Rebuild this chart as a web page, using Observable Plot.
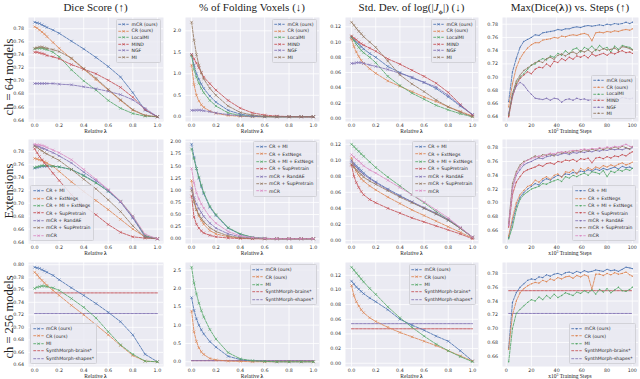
<!DOCTYPE html>
<html><head><meta charset="utf-8">
<script src="https://cdn.jsdelivr.net/npm/d3@7"></script>
<script src="https://cdn.jsdelivr.net/npm/@observablehq/plot@0.6"></script>
<style>
body{margin:0;background:#fff;}
#root{position:relative;width:640px;height:379px;overflow:hidden;background:#fff;}
.title{position:absolute;top:0px;transform:translateX(-50%);white-space:nowrap;font-family:"Liberation Serif",serif;font-size:11px;color:#222;line-height:14px;}
.rowlab{position:absolute;left:9px;white-space:nowrap;font-family:"Liberation Serif",serif;font-size:12.5px;color:#222;transform:translate(-50%,-50%) rotate(-90deg);}
.xlab{position:absolute;transform:translate(-50%,-50%);white-space:nowrap;font-family:"Liberation Serif",serif;font-size:5.5px;line-height:1;color:#222;}
.leg{position:absolute;background:rgba(234,234,242,0.85);border:0.6px solid #d2d2d8;border-radius:1.5px;padding:1px 2.5px 1px 1.5px;font-family:"DejaVu Sans";font-size:4.6px;color:#262626;white-space:nowrap;}
.legrow{display:flex;align-items:center;}
.legrow svg{margin-right:2.5px;flex:none;}
</style></head>
<body><div id="root"></div>
<script>
// ---------------- data ----------------
const lambdas = [0,0.02,0.04,0.06,0.08,0.1,0.15,0.2,0.3,0.4,0.5,0.6,0.7,0.8,0.9,1.0];
const steps = [2,5,8,11,14,17,20,23,26,29,32,35,38,41,44,47,50,53,56,59,62,65,68,71,74,77,80,83,86,89,92,95,98,100];
const lambdaTicks = [0,0.2,0.4,0.6,0.8,1.0];
const stepTicks = [0,20,40,60,80,100];

const names64 = ["mCR (ours)","CR (ours)","LocalMI","MIND","NGF","MI"];
const namesExt = ["CR + MI","CR + ExtNegs","CR + MI + ExtNegs","CR + SupPretrain","mCR + RandAE","mCR + SupPretrain","mCR"];
const names256 = ["mCR (ours)","CR (ours)","MI"];
const baselineNames256 = ["SynthMorph-brains*","SynthMorph-shapes*"];

const titles = ["Dice Score (↑)","% of Folding Voxels (↓)","Std. Dev. of log(|<i>J</i><sub style='font-size:7px'><b>ϕ</b></sub>|) (↓)","Max(Dice(<b>λ</b>)) vs. Steps (↑)"];
const rowLabels = ["ch = 64 models","Extensions","ch = 256 models"];

const dice64 = [
 [0.790,0.789,0.788,0.786,0.784,0.782,0.778,0.773,0.761,0.749,0.736,0.722,0.706,0.682,0.655,0.645],
 [0.783,0.781,0.778,0.775,0.772,0.768,0.759,0.750,0.734,0.718,0.702,0.686,0.670,0.655,0.647,0.645],
 [0.749,0.750,0.750,0.750,0.749,0.748,0.744,0.737,0.717,0.700,0.686,0.670,0.658,0.650,0.646,0.645],
 [0.744,0.744,0.743,0.742,0.741,0.739,0.737,0.734,0.725,0.718,0.711,0.701,0.690,0.675,0.656,0.645],
 [0.696,0.696,0.696,0.696,0.696,0.696,0.696,0.695,0.694,0.691,0.688,0.684,0.679,0.671,0.658,0.645],
 [0.750,0.751,0.752,0.752,0.751,0.750,0.748,0.745,0.735,0.719,0.704,0.687,0.671,0.656,0.647,0.645]];
const fold64 = [
 [1.45,1.20,1.00,0.87,0.76,0.66,0.48,0.34,0.15,0.06,0.02,0.01,0,0,0,0],
 [1.20,0.75,0.50,0.37,0.28,0.22,0.13,0.08,0.03,0.01,0,0,0,0,0,0],
 [1.42,1.10,0.92,0.78,0.66,0.56,0.38,0.25,0.09,0.03,0.01,0,0,0,0,0],
 [1.45,1.35,1.25,1.14,1.03,0.92,0.77,0.62,0.38,0.20,0.09,0.04,0.015,0.005,0,0],
 [0.15,0.15,0.155,0.155,0.15,0.14,0.12,0.09,0.05,0.02,0.01,0,0,0,0,0],
 [2.20,1.78,1.45,1.20,1.02,0.88,0.66,0.50,0.25,0.10,0.04,0.01,0,0,0,0]];
const std64 = [
 [0.106,0.103,0.100,0.097,0.094,0.091,0.085,0.080,0.068,0.060,0.053,0.047,0.039,0.028,0.016,0.005],
 [0.104,0.094,0.087,0.081,0.076,0.072,0.065,0.059,0.049,0.042,0.035,0.028,0.022,0.015,0.009,0.003],
 [0.107,0.102,0.097,0.093,0.089,0.086,0.080,0.073,0.055,0.043,0.033,0.025,0.017,0.011,0.006,0.002],
 [0.108,0.105,0.103,0.100,0.098,0.096,0.092,0.088,0.078,0.071,0.063,0.055,0.046,0.034,0.018,0.004],
 [0.072,0.072,0.073,0.073,0.073,0.072,0.070,0.068,0.064,0.059,0.054,0.047,0.041,0.030,0.017,0.005],
 [0.126,0.122,0.118,0.114,0.111,0.107,0.100,0.093,0.075,0.057,0.045,0.035,0.024,0.015,0.008,0.002]];
const steps64 = [
 [0.663,0.708,0.728,0.745,0.754,0.757,0.760,0.764,0.763,0.767,0.768,0.769,0.770,0.772,0.771,0.773,0.773,0.775,0.776,0.775,0.777,0.778,0.777,0.778,0.779,0.778,0.780,0.779,0.781,0.780,0.781,0.783,0.781,0.783],
 [0.655,0.690,0.714,0.728,0.737,0.744,0.749,0.752,0.752,0.756,0.757,0.758,0.760,0.759,0.762,0.761,0.763,0.764,0.763,0.765,0.766,0.764,0.755,0.767,0.768,0.767,0.769,0.768,0.770,0.769,0.771,0.772,0.771,0.773],
 [0.642,0.675,0.690,0.700,0.705,0.712,0.718,0.720,0.725,0.728,0.726,0.732,0.730,0.736,0.733,0.740,0.735,0.742,0.744,0.738,0.745,0.742,0.747,0.740,0.748,0.743,0.745,0.738,0.747,0.742,0.748,0.746,0.745,0.742],
 [0.640,0.670,0.688,0.698,0.703,0.708,0.705,0.712,0.715,0.714,0.720,0.716,0.724,0.722,0.728,0.725,0.730,0.727,0.732,0.730,0.733,0.729,0.735,0.732,0.734,0.736,0.733,0.737,0.735,0.738,0.740,0.737,0.738,0.736],
 [0.645,0.672,0.686,0.692,0.688,0.680,0.674,0.668,0.667,0.666,0.668,0.665,0.668,0.667,0.662,0.666,0.667,0.665,0.668,0.666,0.667,0.665,0.666,0.668,0.667,0.665,0.669,0.667,0.668,0.666,0.669,0.668,0.667,0.668],
 [0.642,0.675,0.694,0.703,0.710,0.714,0.718,0.722,0.724,0.722,0.728,0.730,0.727,0.733,0.735,0.732,0.736,0.738,0.735,0.740,0.738,0.741,0.737,0.742,0.740,0.743,0.741,0.742,0.744,0.740,0.746,0.745,0.743,0.741]];

const diceExt = [
 [0.754,0.755,0.756,0.757,0.757,0.757,0.757,0.756,0.752,0.743,0.732,0.718,0.702,0.678,0.649,0.645],
 [0.769,0.768,0.767,0.766,0.764,0.762,0.757,0.749,0.733,0.718,0.704,0.690,0.675,0.660,0.648,0.645],
 [0.755,0.756,0.757,0.758,0.758,0.758,0.757,0.756,0.752,0.742,0.731,0.719,0.703,0.680,0.650,0.645],
 [0.784,0.778,0.772,0.767,0.762,0.758,0.746,0.735,0.713,0.696,0.682,0.667,0.655,0.648,0.646,0.645],
 [0.789,0.788,0.787,0.785,0.784,0.782,0.778,0.773,0.762,0.748,0.735,0.720,0.702,0.677,0.648,0.645],
 [0.788,0.786,0.783,0.781,0.778,0.776,0.771,0.766,0.752,0.737,0.722,0.705,0.687,0.665,0.647,0.645],
 [0.791,0.790,0.790,0.789,0.788,0.786,0.782,0.778,0.767,0.752,0.737,0.721,0.703,0.680,0.652,0.645]];
const foldExt = [
 [1.95,1.68,1.45,1.25,1.08,0.93,0.65,0.48,0.22,0.09,0.03,0.01,0,0,0,0],
 [1.20,0.80,0.60,0.47,0.38,0.30,0.17,0.10,0.04,0.015,0.005,0,0,0,0,0],
 [1.85,1.65,1.45,1.27,1.10,0.95,0.67,0.50,0.23,0.10,0.03,0.01,0,0,0,0],
 [0.88,0.45,0.30,0.22,0.16,0.12,0.07,0.04,0.015,0.005,0,0,0,0,0,0],
 [1.05,0.85,0.72,0.62,0.54,0.46,0.32,0.22,0.10,0.04,0.015,0,0,0,0,0],
 [1.00,0.75,0.60,0.50,0.42,0.35,0.23,0.15,0.06,0.02,0.01,0,0,0,0,0],
 [1.45,1.15,0.95,0.82,0.72,0.63,0.45,0.32,0.15,0.06,0.025,0.01,0,0,0,0]];
const stdExt = [
 [0.100,0.096,0.093,0.090,0.087,0.084,0.078,0.073,0.064,0.056,0.048,0.040,0.033,0.025,0.015,0.004],
 [0.103,0.092,0.086,0.081,0.077,0.074,0.068,0.063,0.054,0.046,0.038,0.031,0.024,0.017,0.010,0.003],
 [0.120,0.117,0.114,0.111,0.108,0.105,0.098,0.091,0.079,0.068,0.057,0.047,0.036,0.026,0.015,0.004],
 [0.094,0.080,0.072,0.066,0.061,0.057,0.051,0.047,0.040,0.034,0.028,0.023,0.018,0.013,0.008,0.002],
 [0.098,0.094,0.091,0.088,0.085,0.082,0.077,0.072,0.063,0.055,0.048,0.041,0.034,0.026,0.016,0.004],
 [0.095,0.091,0.088,0.085,0.082,0.079,0.074,0.070,0.062,0.054,0.047,0.040,0.033,0.025,0.015,0.004],
 [0.107,0.104,0.101,0.099,0.096,0.093,0.088,0.084,0.075,0.066,0.057,0.048,0.038,0.028,0.016,0.004]];
const stepsExt = [
 [0.650,0.672,0.695,0.708,0.715,0.720,0.724,0.728,0.726,0.732,0.735,0.733,0.737,0.740,0.738,0.742,0.741,0.744,0.743,0.746,0.745,0.748,0.746,0.749,0.747,0.750,0.748,0.750,0.752,0.749,0.753,0.751,0.752,0.750],
 [0.652,0.678,0.700,0.712,0.718,0.724,0.726,0.733,0.730,0.735,0.738,0.734,0.740,0.742,0.737,0.745,0.744,0.748,0.742,0.750,0.747,0.751,0.748,0.752,0.750,0.754,0.752,0.755,0.753,0.756,0.758,0.755,0.757,0.759],
 [0.648,0.665,0.690,0.705,0.712,0.716,0.720,0.722,0.724,0.728,0.727,0.730,0.732,0.734,0.731,0.738,0.736,0.740,0.738,0.741,0.743,0.740,0.745,0.744,0.742,0.747,0.738,0.746,0.744,0.748,0.746,0.749,0.747,0.750],
 [0.665,0.712,0.730,0.738,0.745,0.748,0.750,0.752,0.755,0.753,0.757,0.758,0.756,0.760,0.759,0.762,0.761,0.763,0.760,0.764,0.763,0.765,0.758,0.765,0.766,0.764,0.767,0.765,0.768,0.767,0.770,0.768,0.772,0.774],
 [0.668,0.722,0.740,0.748,0.755,0.758,0.760,0.763,0.765,0.764,0.767,0.768,0.770,0.769,0.771,0.772,0.770,0.773,0.772,0.774,0.773,0.775,0.774,0.776,0.775,0.777,0.776,0.778,0.777,0.778,0.777,0.779,0.778,0.780],
 [0.670,0.728,0.745,0.755,0.760,0.762,0.765,0.768,0.766,0.770,0.769,0.771,0.768,0.773,0.772,0.774,0.772,0.775,0.776,0.774,0.777,0.775,0.778,0.776,0.779,0.777,0.780,0.778,0.781,0.779,0.782,0.780,0.778,0.782],
 [0.668,0.720,0.742,0.752,0.758,0.762,0.764,0.766,0.768,0.767,0.770,0.772,0.771,0.773,0.774,0.773,0.775,0.776,0.775,0.777,0.778,0.777,0.779,0.778,0.780,0.779,0.781,0.780,0.782,0.781,0.783,0.785,0.782,0.781]];

const dice256 = [
 [0.796,0.795,0.794,0.792,0.790,0.788,0.783,0.776,0.763,0.751,0.738,0.724,0.709,0.688,0.657,0.645],
 [0.788,0.784,0.779,0.775,0.771,0.767,0.759,0.751,0.735,0.720,0.704,0.688,0.671,0.655,0.646,0.645],
 [0.762,0.764,0.765,0.766,0.766,0.765,0.763,0.759,0.746,0.732,0.715,0.693,0.672,0.657,0.646,0.645]];
const fold256 = [
 [1.75,1.40,1.17,1.00,0.87,0.76,0.55,0.40,0.15,0.06,0.02,0.01,0,0,0,0],
 [1.38,0.82,0.55,0.38,0.27,0.20,0.09,0.05,0.02,0.01,0,0,0,0,0,0],
 [2.58,2.15,1.85,1.60,1.40,1.22,0.88,0.62,0.25,0.08,0.03,0.01,0,0,0,0]];
const std256 = [
 [0.112,0.108,0.104,0.101,0.098,0.095,0.089,0.084,0.073,0.060,0.052,0.045,0.037,0.030,0.017,0.003],
 [0.106,0.092,0.084,0.078,0.073,0.069,0.062,0.057,0.049,0.042,0.036,0.030,0.024,0.017,0.010,0.003],
 [0.131,0.127,0.123,0.119,0.115,0.111,0.102,0.094,0.077,0.062,0.049,0.037,0.026,0.017,0.009,0.002]];
const steps256 = [
 [0.672,0.738,0.752,0.760,0.765,0.770,0.772,0.771,0.775,0.774,0.778,0.776,0.779,0.780,0.778,0.781,0.782,0.780,0.783,0.781,0.784,0.782,0.783,0.785,0.784,0.783,0.786,0.784,0.785,0.783,0.786,0.789,0.788,0.787],
 [0.670,0.720,0.740,0.752,0.758,0.762,0.765,0.767,0.766,0.770,0.768,0.772,0.770,0.774,0.772,0.775,0.776,0.773,0.777,0.775,0.778,0.776,0.757,0.779,0.779,0.777,0.780,0.778,0.781,0.779,0.780,0.782,0.778,0.776],
 [0.652,0.700,0.722,0.728,0.733,0.738,0.742,0.740,0.746,0.742,0.748,0.744,0.750,0.745,0.748,0.752,0.750,0.748,0.753,0.751,0.755,0.752,0.756,0.750,0.757,0.753,0.758,0.752,0.756,0.760,0.755,0.754,0.757,0.760]];
const dice256Baselines = [0.755,0.722];
const fold256Baselines = [0.03,0.03];
const std256Baselines = [0.047,0.054];
const steps256Baselines = [0.755,0.722];

const diceTicks = [0.64,0.66,0.68,0.70,0.72,0.74,0.76,0.78];
const diceTicks256 = [0.64,0.66,0.68,0.70,0.72,0.74,0.76,0.78,0.80];
const foldTicks64 = [0,0.5,1.0,1.5,2.0];
const foldTicksExt = [0,0.25,0.5,0.75,1.0,1.25,1.5,1.75,2.0];
const foldTicks256 = [0,0.5,1.0,1.5,2.0,2.5];
const stdTicks = [0,0.02,0.04,0.06,0.08,0.10,0.12];
const stepYTicks64 = [0.64,0.66,0.68,0.70,0.72,0.74,0.76,0.78];
const stepYTicks = [0.66,0.68,0.70,0.72,0.74,0.76,0.78];

// ---------------- styling ----------------
const C = {blue:"#4C72B0",orange:"#DD8452",green:"#55A868",red:"#C44E52",purple:"#8172B3",brown:"#937860",pink:"#DA8BC3"};
const colors64 = [C.blue,C.orange,C.green,C.red,C.purple,C.brown];
const colorsExt = [C.blue,C.orange,C.green,C.red,C.purple,C.brown,C.pink];
const colors256 = [C.blue,C.orange,C.green];
const baseColors256 = [C.red,C.purple];
const DASH = "2.8,1.2";

const cols = [{x:28,w:135},{x:185,w:134},{x:345,w:133},{x:502,w:136}];
const rows = [{y:17,h:104},{y:139,h:104},{y:262,h:104}];
const ML=24, MR=3, MT=3, MB=12;
const root = document.getElementById("root");

function panel(r, c, cfg) {
  const {x, w} = cols[c]; const {y, h} = rows[r];
  const isSteps = cfg.kind === "steps";
  const xs = isSteps ? steps : lambdas;
  const xTicks = isSteps ? stepTicks : lambdaTicks;
  const series = cfg.series.map((vals, i) => vals.map((v, j) => ({x: xs[j], y: v, s: i})));
  const base = (cfg.baselines || []).map(b => [{x: xs[0], y: b}, {x: xs[xs.length-1], y: b}]);
  const allY = series.flat().map(d => d.y).concat(cfg.baselines || []);
  const [lo, hi] = d3.extent(allY); const pad = (hi - lo) * 0.05;
  const [xlo, xhi] = d3.extent(xs); const xpad = (xhi - xlo) * 0.05;
  const yDom = [lo - pad, hi + pad];
  const yTicks = cfg.yTicks.filter(t => t >= yDom[0] && t <= yDom[1]);
  const marks = [
    Plot.frame({fill:"#EAEAF2", stroke:"none"}),
    Plot.gridX(xTicks, {stroke:"#fff", strokeOpacity:1, strokeWidth:0.8}),
    Plot.gridY(yTicks, {stroke:"#fff", strokeOpacity:1, strokeWidth:0.8}),
    Plot.axisX(xTicks, {tickSize:0, tickPadding:2.5, tickFormat: isSteps ? d3.format("d") : d3.format(".1f"), label:null}),
    Plot.axisY(yTicks, {tickSize:0, tickPadding:4.5, tickFormat: d3.format(cfg.yFmt), label:null})
  ];
  base.forEach((b, i) => marks.push(Plot.line(b, {x:"x", y:"y", stroke: baseColors256[i], strokeWidth:0.9, strokeDasharray:DASH})));
  series.forEach((s, i) => {
    marks.push(Plot.line(s, {x:"x", y:"y", stroke: cfg.colors[i], strokeWidth:0.85, strokeDasharray:DASH}));
    if (isSteps) marks.push(Plot.dot(s, {x:"x", y:"y", r:0.65, fill: cfg.colors[i], stroke:"none"}));
    else marks.push(Plot.dot(s, {x:"x", y:"y", symbol:"times", r:1.35, stroke: cfg.colors[i], strokeWidth:0.6, fill:"none"}));
  });
  const svg = Plot.plot({
    width: w + ML + MR, height: h + MT + MB,
    marginLeft: ML, marginRight: MR, marginTop: MT, marginBottom: MB,
    x: {domain: [xlo - xpad, xhi + xpad]}, y: {domain: yDom},
    marks,
    style: {background:"transparent", fontFamily:"DejaVu Sans", fontSize:"4.8px", color:"#333", maxWidth:"none", overflow:"visible"}
  });
  const holder = document.createElement("div");
  holder.style.cssText = `position:absolute;left:${x - ML}px;top:${y - MT}px;`;
  holder.appendChild(svg);
  root.appendChild(holder);

  // x label
  const xl = document.createElement("div");
  xl.className = "xlab";
  xl.style.left = (x + w / 2) + "px";
  xl.style.top = (y + h + 10.5) + "px";
  xl.innerHTML = isSteps ? "x10<span style='font-size:3.8px;position:relative;top:-1.8px'>3</span> Training Steps" : "Relative <b>λ</b>";
  root.appendChild(xl);

  // legend
  const entries = cfg.names.map((n, i) => ({name: n, color: cfg.colors[i], marker: isSteps ? "dot" : "x"}));
  (cfg.baseNames || []).forEach((n, i) => entries.push({name: n, color: baseColors256[i], marker: null}));
  const lg = document.createElement("div");
  lg.className = "leg";
  const rh = cfg.rowH;
  entries.forEach(e => {
    const row = document.createElement("div");
    row.className = "legrow";
    row.style.height = rh + "px";
    const m = rh / 2;
    let mk = "";
    if (e.marker === "x") mk = `<path d="M4.3,${m-1.2}L6.7,${m+1.2}M4.3,${m+1.2}L6.7,${m-1.2}" stroke="${e.color}" stroke-width="0.6"/>`;
    else if (e.marker === "dot") mk = `<circle cx="5.5" cy="${m}" r="0.7" fill="${e.color}"/>`;
    row.innerHTML = `<svg width="11" height="${rh}"><line x1="0.3" x2="10.7" y1="${m}" y2="${m}" stroke="${e.color}" stroke-width="0.85" stroke-dasharray="${DASH}"/>${mk}</svg><span>${e.name}</span>`;
    lg.appendChild(row);
  });
  const pos = cfg.legend;
  if (pos.includes("top")) lg.style.top = (y + 2) + "px";
  else lg.style.bottom = (379 - (y + h) + 2) + "px";
  if (pos.includes("right")) lg.style.right = (640 - (x + w) + 2) + "px";
  else lg.style.left = (x + 2) + "px";
  root.appendChild(lg);
}

// titles
titles.forEach((t, c) => {
  const d = document.createElement("div");
  d.className = "title";
  d.style.left = (cols[c].x + cols[c].w / 2) + "px";
  d.innerHTML = t;
  root.appendChild(d);
});
// row labels
[77, 191, 317].forEach((cy, r) => {
  const d = document.createElement("div");
  d.className = "rowlab";
  d.style.top = cy + "px";
  d.textContent = rowLabels[r];
  root.appendChild(d);
});

// row 1
panel(0,0,{kind:"lambda", series:dice64, colors:colors64, names:names64, yTicks:diceTicks, yFmt:".2f", legend:"top-right", rowH:6.6});
panel(0,1,{kind:"lambda", series:fold64, colors:colors64, names:names64, yTicks:foldTicks64, yFmt:".1f", legend:"top-right", rowH:6.6});
panel(0,2,{kind:"lambda", series:std64, colors:colors64, names:names64, yTicks:stdTicks, yFmt:".2f", legend:"top-right", rowH:6.6});
panel(0,3,{kind:"steps", series:steps64, colors:colors64, names:names64, yTicks:stepYTicks64, yFmt:".2f", legend:"bottom-right", rowH:6.6});
// row 2
panel(1,0,{kind:"lambda", series:diceExt, colors:colorsExt, names:namesExt, yTicks:diceTicks, yFmt:".2f", legend:"bottom-left", rowH:7.4});
panel(1,1,{kind:"lambda", series:foldExt, colors:colorsExt, names:namesExt, yTicks:foldTicksExt, yFmt:".2f", legend:"top-right", rowH:7.4});
panel(1,2,{kind:"lambda", series:stdExt, colors:colorsExt, names:namesExt, yTicks:stdTicks, yFmt:".2f", legend:"top-right", rowH:7.4});
panel(1,3,{kind:"steps", series:stepsExt, colors:colorsExt, names:namesExt, yTicks:stepYTicks, yFmt:".2f", legend:"bottom-right", rowH:7.4});
// row 3
panel(2,0,{kind:"lambda", series:dice256, colors:colors256, names:names256, baselines:dice256Baselines, baseNames:baselineNames256, yTicks:diceTicks256, yFmt:".2f", legend:"bottom-left", rowH:7.4});
panel(2,1,{kind:"lambda", series:fold256, colors:colors256, names:names256, baselines:fold256Baselines, baseNames:baselineNames256, yTicks:foldTicks256, yFmt:".1f", legend:"top-right", rowH:7.4});
panel(2,2,{kind:"lambda", series:std256, colors:colors256, names:names256, baselines:std256Baselines, baseNames:baselineNames256, yTicks:stdTicks, yFmt:".2f", legend:"top-right", rowH:7.4});
panel(2,3,{kind:"steps", series:steps256, colors:colors256, names:names256, baselines:steps256Baselines, baseNames:baselineNames256, yTicks:stepYTicks, yFmt:".2f", legend:"bottom-right", rowH:7.4});
</script>
</body></html>
